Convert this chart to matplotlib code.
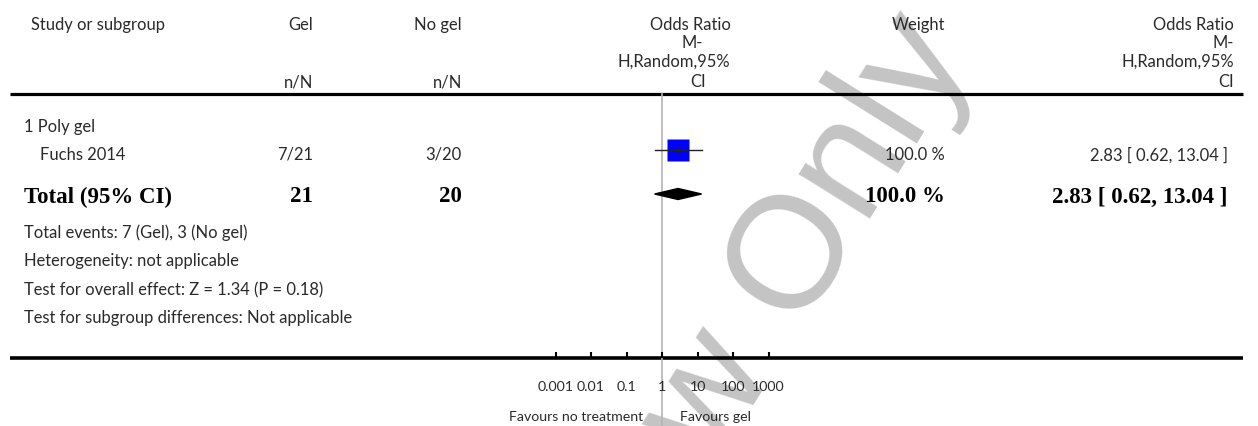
import matplotlib
matplotlib.use("Agg")
import matplotlib.pyplot as plt
from matplotlib.patches import Polygon

# data
study = "Fuchs 2014"
subgroup = "1 Poly gel"
gel_n, gel_N = 7, 21
nogel_n, nogel_N = 3, 20
or_est, or_lo, or_hi = 2.83, 0.62, 13.04
weight = 100.0
tot_est, tot_lo, tot_hi = 2.83, 0.62, 13.04
tick_vals = [0.001, 0.01, 0.1, 1, 10, 100, 1000]
tick_labels = ["0.001", "0.01", "0.1", "1", "10", "100", "1000"]
footer = ["Total events: 7 (Gel), 3 (No gel)",
          "Heterogeneity: not applicable",
          "Test for overall effect: Z = 1.34 (P = 0.18)",
          "Test for subgroup differences: Not applicable"]

W, H = 1258, 427
fig = plt.figure(figsize=(W / 100, H / 100), dpi=100)
ax = fig.add_axes([0, 0, 1, 1])
ax.set_xlim(0, W)
ax.set_ylim(H, 0)
ax.axis("off")

sans = ["Lato", "DejaVu Sans"]
serif = ["Liberation Serif", "DejaVu Serif"]
fs = 11.9
fs_small = 10.2
col = "#2a2a2a"

def t(x, y, s, ha="left", bold=False, size=None):
    if bold:
        ax.text(x, y, s, ha=ha, va="center", family=serif, fontweight="bold",
                fontsize=16.5, color="black")
    else:
        ax.text(x, y, s, ha=ha, va="center", family=sans, fontsize=size or fs,
                color=col)

# watermark
ax.text(700, 412, "Review Only", rotation=58, rotation_mode="anchor",
        ha="center", va="center", fontsize=115, family="Liberation Sans",
        color="#c4c4c4", zorder=0)

# header
t(31, 25, "Study or subgroup")
t(313, 25, "Gel", ha="right")
t(313, 82, "n/N", ha="right")
t(462, 25, "No gel", ha="right")
t(462, 82, "n/N", ha="right")
t(690, 25, "Odds Ratio", ha="center")
t(692, 43, "M-", ha="center")
t(674, 62, "H,Random,95%", ha="center")
t(698, 82, "CI", ha="center")
t(918, 25, "Weight", ha="center")
t(1234, 25, "Odds Ratio", ha="right")
t(1234, 43, "M-", ha="right")
t(1234, 62, "H,Random,95%", ha="right")
t(1234, 82, "CI", ha="right")
ax.plot([10, 1243], [94.5, 94.5], color="black", lw=2.3, solid_capstyle="butt")

# rows
t(24, 127, subgroup)
t(40, 155, study)
t(313, 155, f"{gel_n}/{gel_N}", ha="right")
t(462, 155, f"{nogel_n}/{nogel_N}", ha="right")
t(945, 155, f"{weight:.1f} %", ha="right")
t(1228, 155, f"{or_est:.2f} [ {or_lo:.2f}, {or_hi:.2f} ]", ha="right")

t(24, 197, "Total (95% CI)", bold=True)
t(313, 197, str(gel_N), ha="right", bold=True)
t(462, 197, str(nogel_N), ha="right", bold=True)
t(945, 197, f"{weight:.1f} %", ha="right", bold=True)
t(1228, 197, f"{tot_est:.2f} [ {tot_lo:.2f}, {tot_hi:.2f} ]", ha="right", bold=True)

for i, s in enumerate(footer):
    t(24, 233 + i * 28.5, s)

ax.plot([10, 1243], [359, 359], color="black", lw=2.6, solid_capstyle="butt")

# forest panel, log scale, 1 at x=662 px, 35.5 px per decade
left_px, right_px = 540, 785
dec = 35.5
axf = fig.add_axes([left_px / W, (H - 359) / H, (right_px - left_px) / W, 359 / H])
axf.set_xscale("log")
axf.set_xlim(10 ** ((left_px - 662) / dec), 10 ** ((right_px - 662) / dec))
axf.set_ylim(359, 0)
axf.patch.set_alpha(0)
for sp in axf.spines.values():
    sp.set_visible(False)
axf.set_yticks([])
axf.set_xticks(tick_vals)
axf.set_xticklabels(tick_labels, family=sans, fontsize=fs_small, color=col)
axf.minorticks_off()
axf.tick_params(axis="x", direction="in", length=4.5, width=1.5, pad=16)

axf.plot([1, 1], [95, 427], color="#b4b4b4", lw=1.2, clip_on=False, zorder=1)
axf.plot([or_lo, or_hi], [151, 151], color="#222222", lw=1, zorder=3)
axf.plot([or_est], [151], marker="s", ms=15.8, color="#0000ff", mec="none", zorder=2)
axf.plot([or_est], [151], marker="|", ms=4, mew=1, color="#222222", zorder=4)
axf.add_patch(Polygon([(tot_lo, 195), (tot_est, 189.5), (tot_hi, 195), (tot_est, 200.5)],
                      closed=True, color="black", zorder=3))

t(643, 417, "Favours no treatment", ha="right", size=fs_small)
t(680, 417, "Favours gel", size=fs_small)

fig.savefig("out.png", dpi=100)
